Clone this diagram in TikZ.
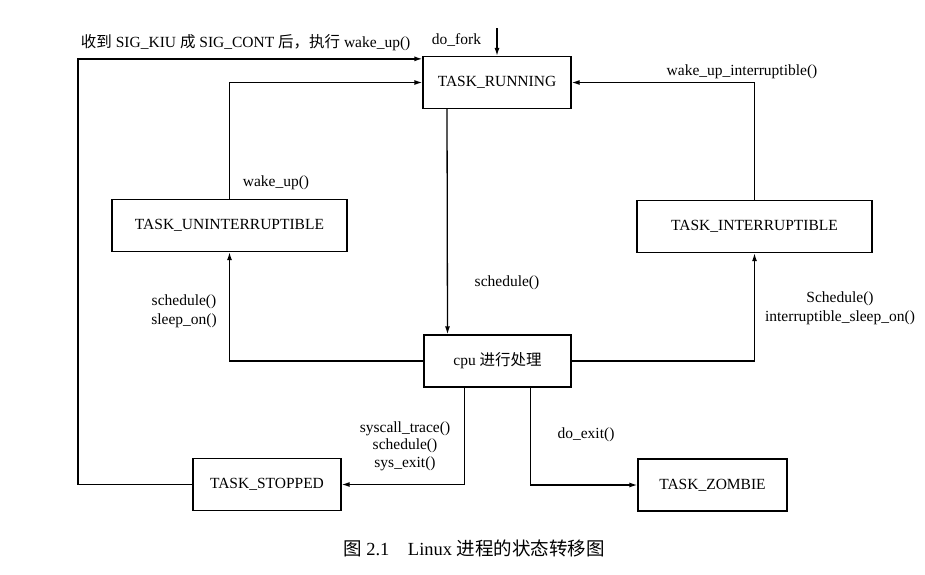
\documentclass[tikz,border=0pt]{standalone}
\usepackage{fontspec}
\setmainfont{Liberation Serif}
\newfontfamily\cjk{Noto Sans CJK SC}
\usetikzlibrary{arrows.meta}

\begin{document}
\begin{tikzpicture}[x=1pt, y=-1pt, line width=1.3pt,
	every node/.style={font=\fontsize{15.5}{19}\selectfont},
	state/.style={draw, inner sep=0pt, minimum height=52pt},
	>={Latex[length=8pt, width=5pt]}]
	\useasboundingbox (0,0) rectangle (925,574);
	% states
	\node[state, minimum width=148pt] (run) at (497,82.5) {TASK\_RUNNING};
	\node[state, minimum width=235pt] (unint) at (229.5,225.5) {TASK\_UNINTERRUPTIBLE};
	\node[state, minimum width=235pt] (inter) at (754.5,226.5) {TASK\_INTERRUPTIBLE};
	\node[state, minimum width=147pt] (cpu) at (497.5,361) {cpu {\cjk 进行处理}};
	\node[state, minimum width=148pt] (stop) at (267,484.5) {TASK\_STOPPED};
	\node[state, minimum width=149pt] (zombie) at (712.5,485) {TASK\_ZOMBIE};
	\coordinate (fork) at (497,28);
	\coordinate (rail) at (78,0);
	% transitions
	\draw[->] (fork) -- (run.north);
	\draw[->] (stop.west) -- (stop.west -| rail) |- ([yshift=-3pt]run.north west);
	\draw[->] (unint.north) |- (run.west);
	\draw[->] (inter.north) |- (run.east);
	\draw[->] ([xshift=-50pt]run.south) -- ([xshift=-50pt]cpu.north);
	\draw[->] (cpu.west) -| (unint.south);
	\draw[->] (cpu.east) -| (inter.south);
	\draw[->] ([xshift=-33pt]cpu.south) |- (stop.east);
	\draw[->] ([xshift=33pt]cpu.south) |- (zombie.west);
	% labels
	\node[anchor=east] (lfork) at (485,40) {do\_fork};
	\node[anchor=west] (lsig) at (77,43) {{\cjk 收到} SIG\_KIU {\cjk 成} SIG\_CONT {\cjk 后，执行} wake\_up()};
	\node (lwake) at (276,183) {wake\_up()};
	\node (lwakei) at (742,72) {wake\_up\_interruptible()};
	\node (lsched) at (507,283) {schedule()};
	\node[align=center] (lsleep) at (184,311) {schedule()\\sleep\_on()};
	\node[align=center] (lisleep) at (840,308) {Schedule()\\interruptible\_sleep\_on()};
	\node[align=center, font=\fontsize{15.5}{17.5}\selectfont] (ltrace) at (405,446) {syscall\_trace()\\schedule()\\sys\_exit()};
	\node (lexit) at (586,435) {do\_exit()};
	\node[font=\fontsize{18.5}{22}\selectfont] (caption) at (474,548) {{\cjk 图} 2.1\quad Linux {\cjk 进程的状态转移图}};
\end{tikzpicture}
\end{document}
